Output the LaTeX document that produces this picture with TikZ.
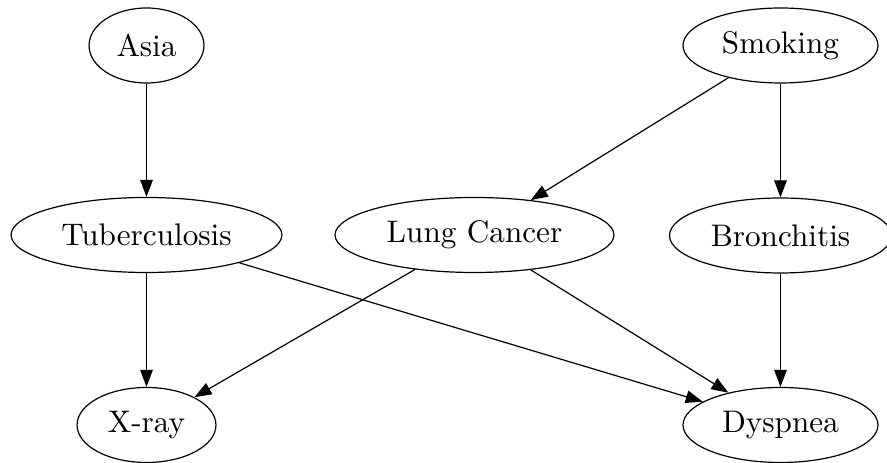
\documentclass[tikz,border=0pt]{standalone}
\usetikzlibrary{shapes.geometric,arrows.meta}
\begin{document}
\begin{tikzpicture}[x=0.33333pt,y=-0.33333pt,
  var/.style={draw,ellipse,inner sep=0pt,line width=0.4pt,minimum height=25pt,
    font=\fontsize{10.4}{12.5}\selectfont},
  edge/.style={line width=0.4pt,-{Triangle[length=5.7pt,width=4.2pt]}}]
  \useasboundingbox (0,0) rectangle (887,463);
  % top row
  \node[var,minimum width=38.3pt] (asia) at (146.5,45.5) {Asia};
  \node[var,minimum width=65pt] (smoke) at (780.5,45.5) {Smoking};
  % middle row
  \node[var,minimum width=90.3pt] (tub) at (146.5,235) {Tuberculosis};
  \node[var,minimum width=93pt] (lung) at (474.5,235) {Lung Cancer};
  \node[var,minimum width=74pt] (bronc) at (780.5,235.5) {Bronchitis};
  % bottom row
  \node[var,minimum width=46.3pt] (xray) at (146.5,425) {X-ray};
  \node[var,minimum width=65pt] (dysp) at (780.5,425) {Dyspnea};
  % dependencies
  \draw[edge] (asia) -- (tub);
  \draw[edge] (smoke) -- (lung);
  \draw[edge] (smoke) -- (bronc);
  \draw[edge] (tub) -- (xray);
  \draw[edge] (tub) -- (dysp);
  \draw[edge] (lung) -- (xray);
  \draw[edge] (lung) -- (dysp);
  \draw[edge] (bronc) -- (dysp);
\end{tikzpicture}
\end{document}
